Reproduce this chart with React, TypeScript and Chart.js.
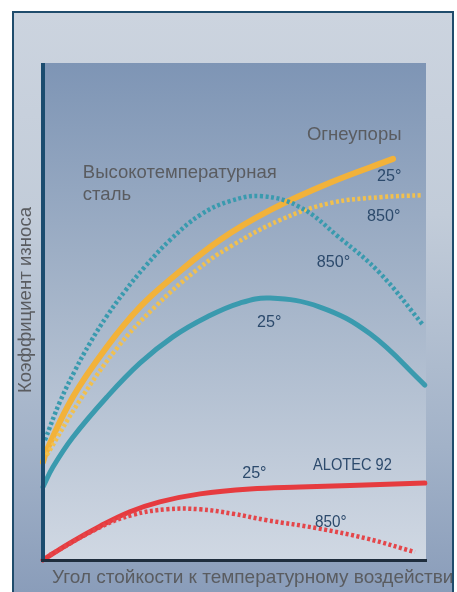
import React, { useEffect, useRef } from "react";
import { Chart, registerables } from "chart.js";

Chart.register(...registerables);

// Data in relative units: x = temperature-shock angle (0-100), y = wear coefficient (0-100)
const steelHotX = [0.5, 4.4, 8.4, 12.3, 16.7, 21.4, 26.6, 33.2, 41.0, 48.8, 57.2, 67.1, 77.5, 88.0, 99.2];
const steelHotY = [24.1, 31.8, 38.2, 43.7, 49.1, 54.1, 59.0, 64.4, 69.4, 72.2, 73.2, 71.0, 64.8, 57.7, 47.3];

const steelColdX = [0, 2.6, 7.8, 16.7, 25.3, 33.9, 42.8, 51.4, 59.3, 72.3, 85.4, 99.7];
const steelColdY = [14.7, 18.7, 24.7, 32.8, 39.6, 44.9, 48.9, 51.7, 52.7, 50.9, 45.5, 35.2];

const refrColdX = [0, 1, 7.8, 16.7, 25.3, 33.9, 46.2, 59.3, 74.9, 91.4];
const refrColdY = [19.7, 22.1, 32.8, 42.9, 50.9, 56.9, 64.4, 70.4, 75.9, 80.7];

const refrHotX = [1.0, 9.7, 19.6, 29.2, 40.2, 48.8, 61.9, 74.9, 88.0, 99.2];
const refrHotY = [21.1, 32.2, 42.9, 50.9, 58.4, 63.0, 68.4, 71.8, 73.0, 73.4];

const alotecColdX = [0, 7.0, 14.9, 22.7, 30.5, 41.0, 54.0, 67.1, 80.2, 99.7];
const alotecColdY = [0, 3.4, 6.8, 9.7, 11.7, 13.3, 14.3, 14.7, 15.0, 15.5];

const alotecHotX = [1.8, 14.9, 23.5, 32.4, 41.0, 49.6, 58.5, 71.5, 84.6, 97.1];
const alotecHotY = [1.0, 6.6, 9.1, 10.2, 10.2, 9.3, 8.0, 6.4, 4.3, 1.6];

const yTitle = "Коэффициент износа";
const xTitle = "Угол стойкости к температурному воздействию";
const steelLabel = ["Высокотемпературная", "сталь"];
const refrLabel = "Огнеупоры";
const alotecLabel = "ALOTEC 92";
const coldLabel = "25°";
const hotLabel = "850°";

const pts = (xs: number[], ys: number[]) => xs.map((x, i) => ({ x, y: ys[i] }));

const TEAL = "#3a9aae";
const ORANGE = "#f2b23a";
const ORANGE_DOT = "#f1c04e";
const RED = "#e63b3f";
const RED_DOT = "#e4464a";
const NAVY_TXT = "#2c4a6c";
const GRAY_TXT = "#5a5c60";
const TXT_FONT = "'Liberation Sans', Arial, sans-serif";

function narrowText(ctx: CanvasRenderingContext2D, text: string, x: number, y: number, size: number, sx: number) {
  ctx.save();
  ctx.translate(x, y);
  ctx.scale(sx, 1);
  ctx.font = `${size}px ${TXT_FONT}`;
  ctx.textBaseline = "middle";
  ctx.textAlign = "left";
  ctx.fillText(text, 0, 0);
  ctx.restore();
}

const framePlugin = {
  id: "frame",
  beforeDraw(chart: any) {
    const ctx = chart.ctx as CanvasRenderingContext2D;
    const { left, right, top, bottom } = chart.chartArea;
    const W = chart.width;
    const H = chart.height;
    ctx.save();
    const g = ctx.createLinearGradient(0, 11, 0, H);
    g.addColorStop(0, "#ccd4df");
    g.addColorStop(0.35, "#c2ccd9");
    g.addColorStop(0.75, "#a2b2c8");
    g.addColorStop(1, "#8a9dba");
    ctx.fillStyle = g;
    ctx.fillRect(12, 11, W - 12 - 4, H - 11);
    const pg = ctx.createLinearGradient(0, top, 0, bottom);
    pg.addColorStop(0, "#7e95b5");
    pg.addColorStop(0.45, "#a3b3c8");
    pg.addColorStop(1, "#d0d8e3");
    ctx.fillStyle = pg;
    ctx.fillRect(left, top, right - left, bottom - top);
    ctx.restore();
  },
  afterDatasetsDraw(chart: any) {
    const ctx = chart.ctx as CanvasRenderingContext2D;
    const { left, right, top, bottom } = chart.chartArea;
    const W = chart.width;
    const H = chart.height;
    const xs = chart.scales.x;
    const ys = chart.scales.y;
    ctx.save();
    ctx.strokeStyle = "#1b4c6f";
    ctx.lineWidth = 4;
    ctx.beginPath();
    ctx.moveTo(left, top);
    ctx.lineTo(left, bottom + 2);
    ctx.stroke();
    ctx.strokeStyle = "#1f2d3d";
    ctx.lineWidth = 3;
    ctx.beginPath();
    ctx.moveTo(left - 2, bottom + 0.5);
    ctx.lineTo(right + 1, bottom + 0.5);
    ctx.stroke();

    const px = (v: number) => xs.getPixelForValue(v);
    const py = (v: number) => ys.getPixelForValue(v);

    ctx.textBaseline = "middle";
    ctx.textAlign = "left";
    ctx.fillStyle = GRAY_TXT;
    ctx.font = `18.5px ${TXT_FONT}`;
    ctx.fillText(refrLabel, px(68.9), py(85.5));
    ctx.fillText(steelLabel[0], px(10.4), py(77.9));
    ctx.fillText(steelLabel[1], px(10.4), py(73.4));

    ctx.fillStyle = NAVY_TXT;
    narrowText(ctx, alotecLabel, px(70.5), py(19.1), 17, 0.86);
    narrowText(ctx, coldLabel, px(87.2), py(77.3), 17, 0.95);
    narrowText(ctx, hotLabel, px(84.6), py(69.2), 17, 0.95);
    narrowText(ctx, hotLabel, px(71.5), py(59.8), 17, 0.95);
    narrowText(ctx, coldLabel, px(55.9), py(47.9), 17, 0.95);
    narrowText(ctx, coldLabel, px(52.0), py(17.5), 17, 0.95);
    narrowText(ctx, hotLabel, px(71.0), py(7.6), 17, 0.9);

    ctx.fillStyle = GRAY_TXT;
    ctx.font = `19px ${TXT_FONT}`;
    ctx.save();
    ctx.beginPath();
    ctx.rect(0, 0, 452, H);
    ctx.clip();
    ctx.fillText(xTitle, 52, 578);
    ctx.restore();
    ctx.save();
    ctx.font = `18.6px ${TXT_FONT}`;
    ctx.translate(26, 300);
    ctx.rotate(-Math.PI / 2);
    ctx.textAlign = "center";
    ctx.fillText(yTitle, 0, 0);
    ctx.restore();

    ctx.strokeStyle = "#1f4c6c";
    ctx.lineWidth = 2;
    ctx.beginPath();
    ctx.moveTo(13, H);
    ctx.lineTo(13, 12);
    ctx.lineTo(W - 4, 12);
    ctx.lineTo(W - 4, H);
    ctx.stroke();
    ctx.restore();
  },
};

export default function App() {
  const ref = useRef<HTMLCanvasElement | null>(null);
  useEffect(() => {
    if (!ref.current) return;
    const solid = (data: any, color: string, w: number) => ({
      data,
      borderColor: color,
      borderWidth: w,
      pointRadius: 0,
      fill: false,
      tension: 0.4,
      borderCapStyle: "round" as const,
    });
    const dotted = (data: any, color: string, w: number) => ({
      data,
      borderColor: color,
      borderWidth: w,
      pointRadius: 0,
      fill: false,
      tension: 0.4,
      borderDash: [3, 2.5],
      borderCapStyle: "butt" as const,
    });
    const chart = new Chart(ref.current, {
      type: "line",
      data: {
        datasets: [
          dotted(pts(alotecHotX, alotecHotY), RED_DOT, 4.5),
          solid(pts(alotecColdX, alotecColdY), RED, 5),
          solid(pts(steelColdX, steelColdY), TEAL, 5),
          dotted(pts(steelHotX, steelHotY), TEAL, 4.5),
          dotted(pts(refrHotX, refrHotY), ORANGE_DOT, 4.5),
          solid(pts(refrColdX, refrColdY), ORANGE, 6),
        ],
      },
      options: {
        responsive: false,
        animation: false,
        events: [],
        layout: { padding: { left: 43, right: 31, top: 63, bottom: 32 } },
        scales: {
          x: { type: "linear", min: 0, max: 100, display: false },
          y: { type: "linear", min: 0, max: 100, display: false },
        },
        plugins: {
          legend: { display: false },
          tooltip: { enabled: false },
        },
        datasets: { line: { clip: false as any } },
      },
      plugins: [framePlugin],
    });
    return () => chart.destroy();
  }, []);
  return (
    <div style={{ position: "absolute", left: 0, top: 0, width: 457, height: 592, background: "#ffffff" }}>
      <canvas ref={ref} width={457} height={592} style={{ display: "block", width: 457, height: 592 }} />
    </div>
  );
}
